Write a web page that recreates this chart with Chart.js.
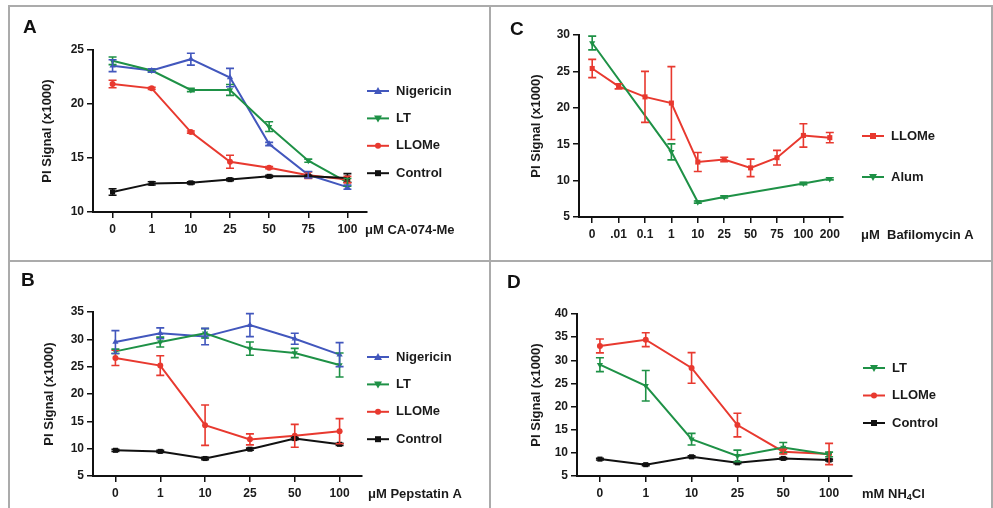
<!DOCTYPE html>
<html>
<head>
<meta charset="utf-8">
<script src="https://cdn.jsdelivr.net/npm/chart.js@4"></script>
<style>
  body { margin: 0; background: #fff; width: 993px; height: 508px; overflow: hidden; position: relative; font-family: Arial, "Liberation Sans", sans-serif; }
  .frame { position: absolute; left: 8px; top: 5px; width: 981px; height: 520px; border: 2px solid #ababab; }
  .vline { position: absolute; left: 489px; top: 5px; width: 2px; height: 520px; background: #ababab; }
  .hline { position: absolute; left: 8px; top: 260px; width: 983px; height: 2px; background: #ababab; }
  .panel { position: absolute; }
  .letter { position: absolute; font-weight: bold; font-size: 19px; line-height: 19px; color: #111; }
</style>
</head>
<body>
<div class="frame"></div>
<div class="vline"></div>
<div class="hline"></div>
<div class="panel" style="left:10px;top:7px;width:479px;height:253px"><canvas id="panelA"></canvas></div>
<div class="panel" style="left:491px;top:7px;width:499px;height:253px"><canvas id="panelC"></canvas></div>
<div class="panel" style="left:10px;top:262px;width:479px;height:246px"><canvas id="panelB"></canvas></div>
<div class="panel" style="left:491px;top:262px;width:499px;height:246px"><canvas id="panelD"></canvas></div>
<div class="letter" style="left:23px;top:17px">A</div>
<div class="letter" style="left:510px;top:19px">C</div>
<div class="letter" style="left:21px;top:270px">B</div>
<div class="letter" style="left:507px;top:272px">D</div>
<script>
// panel A - CA-074-Me
const dosisA = ['0', '1', '10', '25', '50', '75', '100']
const nigericinA = [23.55, 23.1, 24.15, 22.45, 16.3, 13.45, 12.3]
const nigericinAErr = [0.55, 0.15, 0.55, 0.85, 0.15, 0.3, 0.2]
const ltA = [24.0, 23.1, 21.3, 21.3, 17.9, 14.75, 12.75]
const ltAErr = [0.35, 0.1, 0.15, 0.5, 0.45, 0.15, 0.35]
const llomeA = [21.85, 21.45, 17.4, 14.65, 14.1, 13.4, 13.0]
const llomeAErr = [0.35, 0.1, 0.1, 0.6, 0.1, 0.3, 0.3]
const controlA = [11.85, 12.65, 12.7, 13.0, 13.3, 13.3, 13.15]
const controlAErr = [0.3, 0.15, 0.1, 0.1, 0.1, 0.1, 0.4]
const ticksA = [10, 15, 20, 25]

// panel B - Pepstatin A
const dosisB = ['0', '1', '10', '25', '50', '100']
const nigericinB = [29.5, 31.1, 30.5, 32.6, 30.1, 27.2]
const nigericinBErr = [2.1, 1.0, 1.5, 2.1, 1.0, 2.2]
const ltB = [27.8, 29.5, 31.1, 28.3, 27.5, 25.3]
const ltBErr = [0.4, 0.9, 0.85, 1.2, 0.85, 2.2]
const llomeB = [26.6, 25.2, 14.3, 11.7, 12.35, 13.2]
const llomeBErr = [1.4, 1.8, 3.7, 1.0, 2.1, 2.3]
const controlB = [9.7, 9.5, 8.2, 9.9, 11.85, 10.8]
const controlBErr = [0.2, 0.2, 0.2, 0.2, 0.2, 0.2]
const ticksB = [5, 10, 15, 20, 25, 30, 35]

// panel C - Bafilomycin A
const dosisC = ['0', '.01', '0.1', '1', '10', '25', '50', '75', '100', '200']
const llomeC = [25.4, 22.95, 21.5, 20.65, 12.55, 12.9, 11.75, 13.15, 16.2, 15.9]
const llomeCErr = [1.25, 0.35, 3.5, 5.0, 1.3, 0.3, 1.2, 1.0, 1.6, 0.7]
const alumC = [28.9, null, null, 13.95, 7.05, 7.75, null, null, 9.6, 10.25]
const alumCErr = [0.95, 0, 0, 1.1, 0.15, 0.15, 0, 0, 0.15, 0.15]
const ticksC = [5, 10, 15, 20, 25, 30]

// panel D - NH4Cl
const dosisD = ['0', '1', '10', '25', '50', '100']
const ltD = [29.05, 24.5, 12.95, 9.35, 11.15, 9.65]
const ltDErr = [1.5, 3.3, 1.25, 1.25, 1.1, 0.5]
const llomeD = [33.1, 34.45, 28.35, 16.0, 10.25, 9.75]
const llomeDErr = [1.5, 1.5, 3.3, 2.55, 0.5, 2.3]
const controlD = [8.65, 7.45, 9.15, 7.85, 8.8, 8.45]
const controlDErr = [0.2, 0.2, 0.2, 0.2, 0.2, 0.2]
const ticksD = [5, 10, 15, 20, 25, 30, 35, 40]

const azul = '#4257bd'
const verde = '#1e9146'
const rojo = '#e8392f'
const negro = '#111111'
const fuente = 'Arial, "Liberation Sans", sans-serif'

const serie = (label, data, errores, color, estilo) => ({
    label: label,
    data: data,
    errores: errores,
    borderColor: color,
    backgroundColor: color,
    borderWidth: 2,
    pointStyle: estilo === 'down' ? 'triangle' : estilo,
    pointRotation: estilo === 'down' ? 180 : 0,
    pointRadius: estilo === 'circle' ? 3 : 3.6,
    pointBorderWidth: 0,
    pointBackgroundColor: color,
    spanGaps: true,
    tension: 0
})

// barras de error, dibujadas con las escalas del grafico
const barrasError = {
    id: 'barrasError',
    afterDatasetsDraw(chart) {
        const ctx = chart.ctx
        const y = chart.scales.y
        chart.data.datasets.forEach((ds, i) => {
            const meta = chart.getDatasetMeta(i)
            ctx.save()
            ctx.strokeStyle = ds.borderColor
            ctx.lineWidth = 1.6
            ds.data.forEach((v, j) => {
                if (v === null || !ds.errores[j]) return
                const x = meta.data[j].x
                const arriba = y.getPixelForValue(v + ds.errores[j])
                const abajo = y.getPixelForValue(v - ds.errores[j])
                ctx.beginPath()
                ctx.moveTo(x, arriba); ctx.lineTo(x, abajo)
                ctx.moveTo(x - 4, arriba); ctx.lineTo(x + 4, arriba)
                ctx.moveTo(x - 4, abajo); ctx.lineTo(x + 4, abajo)
                ctx.stroke()
            })
            ctx.restore()
        })
    }
}

const marcador = (ctx, estilo, x, y) => {
    ctx.beginPath()
    if (estilo === 'circle') {
        ctx.arc(x, y, 3, 0, Math.PI * 2)
    } else if (estilo === 'rect') {
        ctx.rect(x - 3, y - 3, 6, 6)
    } else if (estilo === 'triangle') {
        ctx.moveTo(x, y - 4); ctx.lineTo(x + 4, y + 3); ctx.lineTo(x - 4, y + 3)
    } else {
        ctx.moveTo(x, y + 4); ctx.lineTo(x + 4, y - 3); ctx.lineTo(x - 4, y - 3)
    }
    ctx.closePath()
    ctx.fill()
}

// leyenda y etiqueta de unidades a la derecha
const textosPanel = {
    id: 'textosPanel',
    afterDraw(chart, args, opts) {
        const ctx = chart.ctx
        ctx.save()
        opts.leyenda.forEach((item, i) => {
            const yy = opts.leyendaY + i * opts.paso
            ctx.strokeStyle = item.color
            ctx.fillStyle = item.color
            ctx.lineWidth = 2
            ctx.beginPath()
            ctx.moveTo(opts.leyendaX, yy); ctx.lineTo(opts.leyendaX + 22, yy)
            ctx.stroke()
            marcador(ctx, item.estilo, opts.leyendaX + 11, yy)
            ctx.fillStyle = '#1a1a1a'
            ctx.font = 'bold 13px ' + fuente
            ctx.textBaseline = 'middle'
            ctx.textAlign = 'left'
            ctx.fillText(item.texto, opts.leyendaX + 29, yy)
        })
        const ux = chart.chartArea.right + opts.unidadDx
        const uy = chart.chartArea.bottom + 18
        ctx.fillStyle = '#1a1a1a'
        ctx.font = 'bold 13px ' + fuente
        ctx.textBaseline = 'middle'
        ctx.textAlign = 'left'
        ctx.fillText(opts.unidad, ux, uy)
        if (opts.subindice) {
            const w = ctx.measureText(opts.unidad).width
            ctx.font = 'bold 9px ' + fuente
            ctx.fillText(opts.subindice, ux + w, uy + 4)
            const w2 = ctx.measureText(opts.subindice).width
            ctx.font = 'bold 13px ' + fuente
            ctx.fillText(opts.cola, ux + w + w2, uy)
        }
        ctx.restore()
    }
}

const crearPanel = (id, cfg) => {
    new Chart(document.getElementById(id).getContext('2d'), {
        type: 'line',
        data: { labels: cfg.etiquetas, datasets: cfg.series },
        plugins: [barrasError, textosPanel],
        options: {
            responsive: true,
            maintainAspectRatio: false,
            animation: false,
            events: [],
            layout: { padding: cfg.padding },
            plugins: {
                legend: { display: false },
                tooltip: { enabled: false },
                textosPanel: cfg.textos
            },
            scales: {
                x: {
                    type: 'category',
                    offset: true,
                    grid: { display: true, drawOnChartArea: false, drawTicks: true, tickLength: 6, color: '#111', lineWidth: 1.5 },
                    border: { display: true, color: '#111', width: 2 },
                    ticks: { color: '#1a1a1a', font: { family: fuente, size: 12, weight: 'bold' }, padding: 4, maxRotation: 0, autoSkip: false },
                    afterFit: (s) => { s.height = 30 }
                },
                y: {
                    min: cfg.ticks[0],
                    max: cfg.ticks[cfg.ticks.length - 1],
                    afterBuildTicks: (s) => { s.ticks = cfg.ticks.map(v => ({ value: v })) },
                    grid: { display: true, drawOnChartArea: false, drawTicks: true, tickLength: 6, color: '#111', lineWidth: 1.5 },
                    border: { display: true, color: '#111', width: 2 },
                    ticks: { color: '#1a1a1a', font: { family: fuente, size: 12, weight: 'bold' }, padding: 3 },
                    title: {
                        display: true,
                        text: 'PI Signal (x1000)',
                        color: '#1a1a1a',
                        font: { family: fuente, size: 13, weight: 'bold' },
                        padding: { top: cfg.tituloPad, bottom: 0 }
                    },
                    afterFit: (s) => { s.width = cfg.anchoY }
                }
            }
        }
    })
}

const leyenda4 = [
    { texto: 'Nigericin', color: azul, estilo: 'triangle' },
    { texto: 'LT', color: verde, estilo: 'down' },
    { texto: 'LLOMe', color: rojo, estilo: 'circle' },
    { texto: 'Control', color: negro, estilo: 'rect' }
]

crearPanel('panelA', {
    etiquetas: dosisA,
    ticks: ticksA,
    anchoY: 83,
    tituloPad: 30,
    padding: { left: 0, top: 43, right: 122, bottom: 18 },
    series: [
        serie('Control', controlA, controlAErr, negro, 'rect'),
        serie('LLOMe', llomeA, llomeAErr, rojo, 'circle'),
        serie('LT', ltA, ltAErr, verde, 'down'),
        serie('Nigericin', nigericinA, nigericinAErr, azul, 'triangle')
    ],
    textos: { leyenda: leyenda4, leyendaX: 357, leyendaY: 84, paso: 27.4, unidad: 'μM CA-074-Me', unidadDx: -2 }
})

crearPanel('panelB', {
    etiquetas: dosisB,
    ticks: ticksB,
    anchoY: 83,
    tituloPad: 32,
    padding: { left: 0, top: 50, right: 127, bottom: 2 },
    series: [
        serie('Control', controlB, controlBErr, negro, 'rect'),
        serie('LLOMe', llomeB, llomeBErr, rojo, 'circle'),
        serie('LT', ltB, ltBErr, verde, 'down'),
        serie('Nigericin', nigericinB, nigericinBErr, azul, 'triangle')
    ],
    textos: { leyenda: leyenda4, leyendaX: 357, leyendaY: 95, paso: 27.4, unidad: 'μM Pepstatin A', unidadDx: 6 }
})

crearPanel('panelC', {
    etiquetas: dosisC,
    ticks: ticksC,
    anchoY: 88,
    tituloPad: 38,
    padding: { left: 0, top: 28, right: 147, bottom: 13 },
    series: [
        serie('Alum', alumC, alumCErr, verde, 'down'),
        serie('LLOMe', llomeC, llomeCErr, rojo, 'rect')
    ],
    textos: {
        leyenda: [
            { texto: 'LLOMe', color: rojo, estilo: 'rect' },
            { texto: 'Alum', color: verde, estilo: 'down' }
        ],
        leyendaX: 371, leyendaY: 129, paso: 41, unidad: 'μM  Bafilomycin A', unidadDx: 18
    }
})

crearPanel('panelD', {
    etiquetas: dosisD,
    ticks: ticksD,
    anchoY: 86,
    tituloPad: 38,
    padding: { left: 0, top: 52, right: 138, bottom: 2 },
    series: [
        serie('Control', controlD, controlDErr, negro, 'rect'),
        serie('LT', ltD, ltDErr, verde, 'down'),
        serie('LLOMe', llomeD, llomeDErr, rojo, 'circle')
    ],
    textos: {
        leyenda: [
            { texto: 'LT', color: verde, estilo: 'down' },
            { texto: 'LLOMe', color: rojo, estilo: 'circle' },
            { texto: 'Control', color: negro, estilo: 'rect' }
        ],
        leyendaX: 372, leyendaY: 106, paso: 27.5, unidad: 'mM NH', subindice: '4', cola: 'Cl', unidadDx: 10
    }
})
</script>
</body>
</html>
